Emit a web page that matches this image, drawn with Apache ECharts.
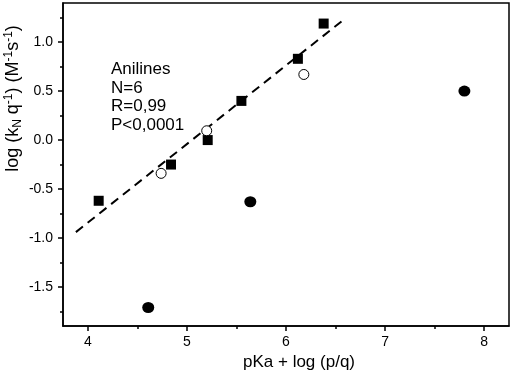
<!DOCTYPE html>
<html>
<head>
<meta charset="utf-8">
<script src="https://cdn.jsdelivr.net/npm/echarts@6/dist/echarts.min.js"></script>
<style>
html,body{margin:0;padding:0;background:#fff;}
#chart{width:512px;height:376px;}
</style>
</head>
<body>
<div id="chart"></div>
<script>
// Data
var squares = [[4.11, -0.62], [4.84, -0.25], [5.21, 0.00], [5.55, 0.40], [6.12, 0.83], [6.38, 1.19]];
var openCircles = [[4.74, -0.34], [5.20, 0.095], [6.18, 0.67]];
var filledCircles = [[4.61, -1.71], [5.64, -0.63], [7.80, 0.50]];
var fitLine = [[3.88, -0.94], [6.57, 1.22]];
var xTicks = [4, 5, 6, 7, 8];
var xMinorTicks = [4.5, 5.5, 6.5, 7.5];
var yTicks = [-1.5, -1.0, -0.5, 0.0, 0.5, 1.0];
var yMinorTicks = [-1.75, -1.25, -0.75, -0.25, 0.25, 0.75, 1.25];
var annotation = ['Anilines', 'N=6', 'R=0,99', 'P<0,0001'];
var xTitle = 'pKa + log (p/q)';

var chart = echarts.init(document.getElementById('chart'), null, {renderer: 'canvas'});
var FONT = 'Arial, "Liberation Sans", sans-serif';
var lineCol = '#000';

var option = {
  animation: false,
  backgroundColor: '#fff',
  grid: {left: 63, right: 3, top: 3, bottom: 46, show: true, borderColor: '#000', borderWidth: 1.5, containLabel: false},
  xAxis: [
    {
      type: 'value', min: 3.75, max: 8.25, position: 'bottom',
      axisLine: {show: true, onZero: false, lineStyle: {color: lineCol, width: 1.5}},
      axisTick: {show: true, inside: false, length: 5, customValues: xTicks, lineStyle: {color: lineCol, width: 1.5}},
      axisLabel: {show: true, customValues: xTicks, margin: 9, color: '#000', fontSize: 14, fontFamily: FONT,
        formatter: function (v) { return String(v); }},
      splitLine: {show: false},
      name: xTitle, nameLocation: 'middle', nameGap: 26,
      nameTextStyle: {color: '#000', fontSize: 17, fontFamily: FONT, padding: [0, 0, 0, 26]}
    },
    {
      type: 'value', min: 3.75, max: 8.25, position: 'bottom',
      axisLine: {show: false, onZero: false},
      axisTick: {show: true, inside: false, length: 3, customValues: xMinorTicks, lineStyle: {color: lineCol, width: 1.5}},
      axisLabel: {show: false},
      splitLine: {show: false}
    }
  ],
  yAxis: [
    {
      type: 'value', min: -1.9, max: 1.4, position: 'left',
      axisLine: {show: true, onZero: false, lineStyle: {color: lineCol, width: 1.5}},
      axisTick: {show: true, inside: false, length: 5, customValues: yTicks, lineStyle: {color: lineCol, width: 1.5}},
      axisLabel: {show: true, customValues: yTicks, margin: 10, color: '#000', fontSize: 14, fontFamily: FONT,
        formatter: function (v) { return v.toFixed(1); }},
      splitLine: {show: false}
    },
    {
      type: 'value', min: -1.9, max: 1.4, position: 'left',
      axisLine: {show: false, onZero: false},
      axisTick: {show: true, inside: false, length: 3, customValues: yMinorTicks, lineStyle: {color: lineCol, width: 1.5}},
      axisLabel: {show: false},
      splitLine: {show: false}
    }
  ],
  graphic: [
    {
      type: 'text', x: 111, y: 60,
      style: {text: annotation.join('\n'), font: '17px ' + FONT, fill: '#000', lineHeight: 18.7, align: 'left', verticalAlign: 'top'}
    },
    {
      type: 'text', x: 13, y: 98.5, rotation: Math.PI / 2,
      style: {
        text: '{n|log (k}{sub|N}{n| q}{sup|-1}{n|) (M}{sup|-1}{n|s}{sup|-1}{n|)}',
        align: 'center', verticalAlign: 'middle', fill: '#000',
        rich: {
          n: {fontSize: 18, fontFamily: FONT, lineHeight: 21, fill: '#000'},
          sub: {fontSize: 12, fontFamily: FONT, lineHeight: 12, verticalAlign: 'bottom', fill: '#000'},
          sup: {fontSize: 12, fontFamily: FONT, lineHeight: 12, verticalAlign: 'top', fill: '#000'}
        }
      }
    }
  ],
  series: [
    {
      type: 'line', data: fitLine, xAxisIndex: 0, yAxisIndex: 0,
      showSymbol: false, symbol: 'none', silent: true, z: 1,
      lineStyle: {color: '#000', width: 2, type: [9, 6]}
    },
    {
      type: 'scatter', data: squares, xAxisIndex: 0, yAxisIndex: 0,
      symbol: 'rect', symbolSize: 10, z: 3,
      itemStyle: {color: '#000', opacity: 1}
    },
    {
      type: 'scatter', data: openCircles, xAxisIndex: 0, yAxisIndex: 0,
      symbol: 'circle', symbolSize: 10, z: 4,
      itemStyle: {color: '#fff', borderColor: '#000', borderWidth: 1, opacity: 1}
    },
    {
      type: 'scatter', data: filledCircles, xAxisIndex: 0, yAxisIndex: 0,
      symbol: 'circle', symbolSize: [12, 11], z: 3,
      itemStyle: {color: '#000', opacity: 1}
    }
  ]
};
chart.setOption(option);
</script>
</body>
</html>
